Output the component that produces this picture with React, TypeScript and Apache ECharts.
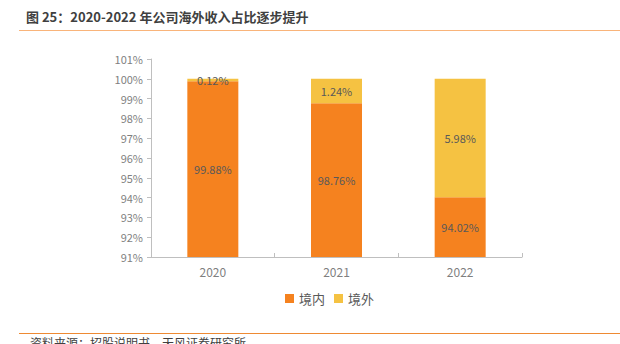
import React, { useEffect, useRef } from "react";
import * as echarts from "echarts";

const categories = ["2020", "2021", "2022"];
const domestic = [99.88, 98.76, 94.02];
const overseas = [0.12, 1.24, 5.98];
const seriesNames = ["境内", "境外"];
const titleText = "图 25：2020-2022 年公司海外收入占比逐步提升";
const sourceText = "资料来源：招股说明书，天风证券研究所";

export default function App() {
  const ref = useRef<HTMLDivElement>(null);
  useEffect(() => {
    const chart = echarts.init(ref.current!, null, { renderer: "svg" });
    const font = "'Noto Sans CJK SC', 'Noto Sans', sans-serif";
    chart.setOption({
      animation: false,
      backgroundColor: "#ffffff",
      textStyle: { fontFamily: font },
      grid: { left: 151, right: 98, top: 59, bottom: 87, containLabel: false },
      legend: {
        data: seriesNames,
        bottom: 34,
        left: 280,
        itemWidth: 9,
        itemHeight: 9,
        itemGap: 9,
        icon: "rect",
        textStyle: { fontSize: 13, color: "#595959", fontFamily: font },
      },
      xAxis: {
        type: "category",
        data: categories,
        axisLine: { lineStyle: { color: "#bfbfbf" } },
        axisTick: { show: true, inside: true, length: 4, lineStyle: { color: "#bfbfbf" } },
        axisLabel: { color: "#7f7f7f", fontSize: 12, margin: 8 },
      },
      yAxis: {
        type: "value",
        min: 91,
        max: 101,
        interval: 1,
        axisLine: { show: true, lineStyle: { color: "#bfbfbf" } },
        axisTick: { show: true, length: 4, lineStyle: { color: "#bfbfbf" } },
        splitLine: { show: false },
        axisLabel: { color: "#7f7f7f", fontSize: 11, formatter: "{value}%", margin: 8 },
      },
      series: [
        {
          name: seriesNames[0],
          type: "bar",
          stack: "total",
          data: domestic,
          barWidth: 51,
          itemStyle: { color: "#F5821F" },
          label: {
            show: true,
            position: "inside",
            color: "#595959",
            fontSize: 11,
            formatter: (p: any) => p.value.toFixed(2) + "%",
          },
        },
        {
          name: seriesNames[1],
          type: "bar",
          stack: "total",
          data: overseas,
          barWidth: 51,
          itemStyle: { color: "#F5C242" },
          label: {
            show: true,
            position: "inside",
            color: "#595959",
            fontSize: 11,
            formatter: (p: any) => p.value.toFixed(2) + "%",
          },
        },
      ],
      graphic: [
        {
          type: "text",
          left: 26,
          top: 10,
          style: { text: titleText, fontSize: 13, fontWeight: "bold", fill: "#404040", fontFamily: font },
        },
        {
          type: "line",
          shape: { x1: 19, y1: 30.5, x2: 620, y2: 30.5 },
          style: { stroke: "#F9B47A", lineWidth: 1 },
        },
        {
          type: "line",
          shape: { x1: 19, y1: 333.5, x2: 620, y2: 333.5 },
          style: { stroke: "#EE8A33", lineWidth: 1 },
        },
        {
          type: "text",
          left: 30,
          top: 336,
          style: { text: sourceText, fontSize: 12, fill: "#404040", fontFamily: font },
        },
      ],
    });
    return () => chart.dispose();
  }, []);
  return <div ref={ref} style={{ width: 620, height: 344, position: "fixed", left: 0, top: 0 }} />;
}
